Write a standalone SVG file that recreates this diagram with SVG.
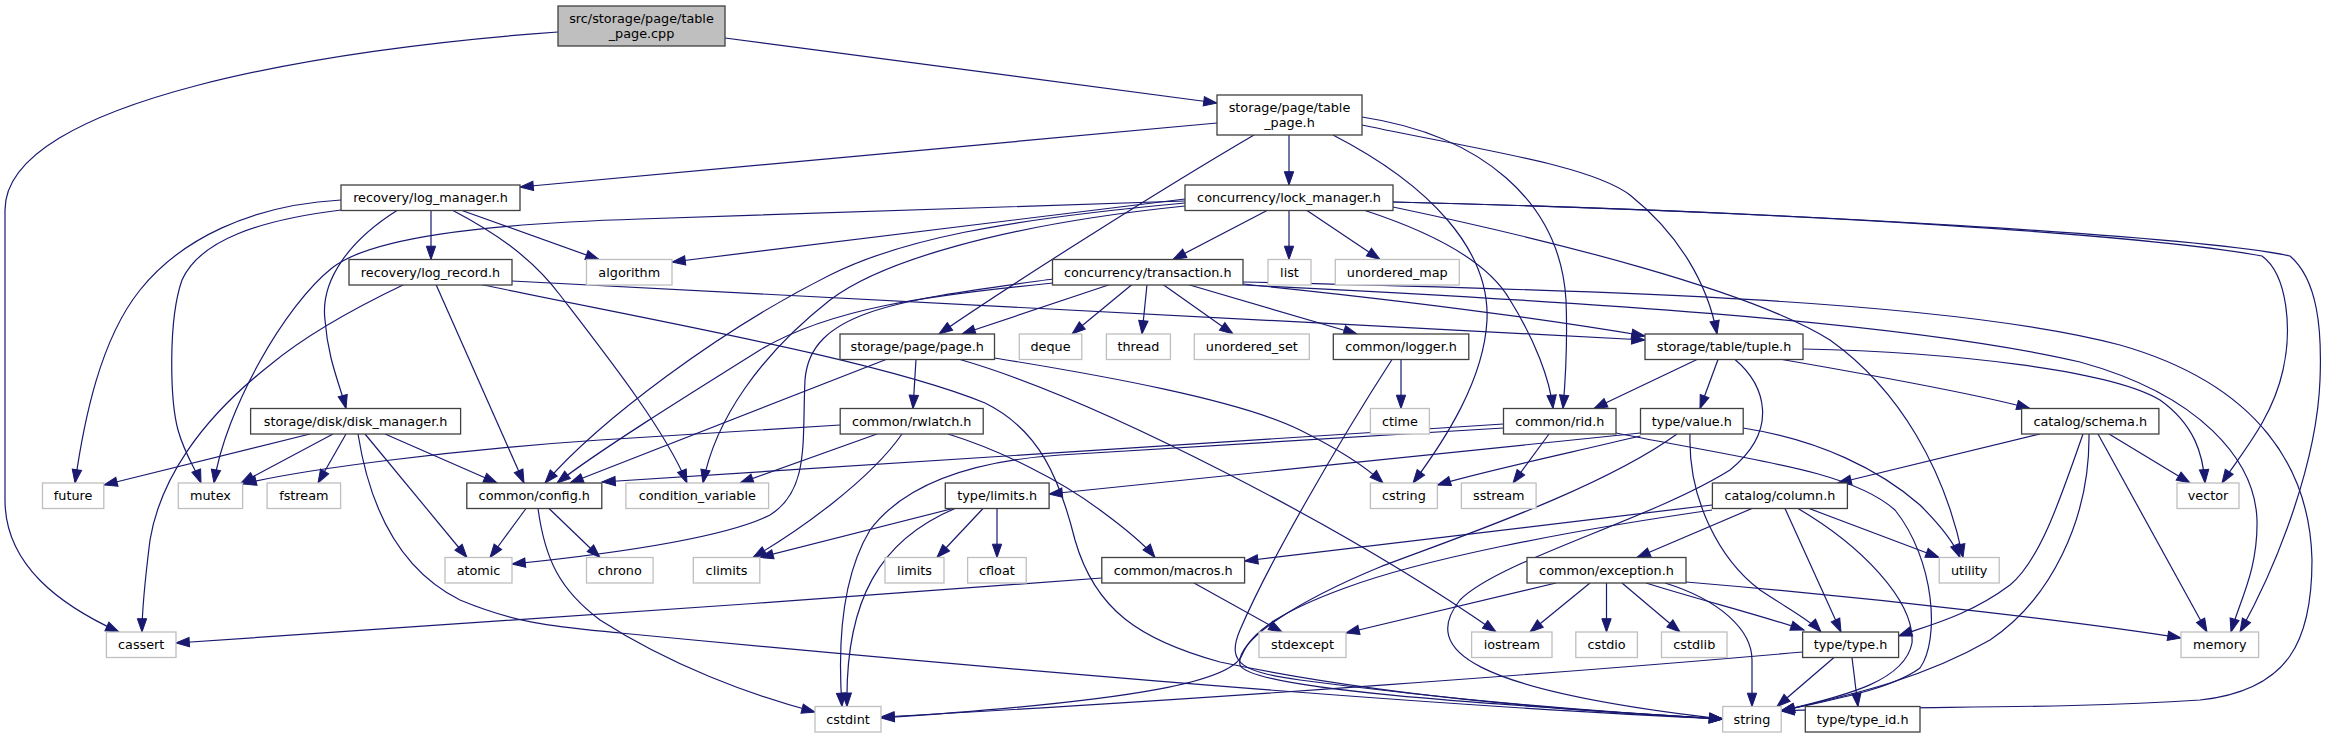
<svg xmlns="http://www.w3.org/2000/svg" width="2328" height="739" viewBox="0 0 2328 739">
<style>
.e path{fill:none;stroke:#191970;stroke-width:1.2;marker-end:url(#a)}
.n rect{fill:#fff;stroke:#404040;stroke-width:1.3}
.x rect{fill:#fff;stroke:#bfbfbf;stroke-width:1.3}
.g rect{fill:#bfbfbf;stroke:#404040;stroke-width:1.3}
text{font-family:"DejaVu Sans","Liberation Sans",sans-serif;font-size:12.8px;text-anchor:middle;fill:#000}
</style>
<defs>
<marker id="a" markerWidth="15" markerHeight="11" refX="13.3" refY="4.67" orient="auto" markerUnits="userSpaceOnUse" overflow="visible"><path d="M0,0 L13.3,4.67 L0,9.33 z" fill="#191970" stroke="#191970" stroke-width="1"/></marker>
</defs>
<rect width="2328" height="739" fill="#fff"/>
<g id="connectors" class="e">
<path d="M725,38 L1217,103"/>
<path d="M558,32 C330,48 5,100 5,210 L5,500 C5,565 60,605 119,632"/>
<path d="M1217,123 L520,187"/>
<path d="M1289,135 L1289,185"/>
<path d="M1254,135 C1160,190 1010,285 939,334"/>
<path d="M1333,135 C1430,185 1490,250 1487,320 C1484,380 1445,440 1413,483"/>
<path d="M1362,117 C1480,135 1560,200 1566,300 C1568,350 1565,385 1563,408.5"/>
<path d="M1362,125 C1480,150 1590,165 1630,195 C1680,235 1708,285 1717,334"/>
<path d="M341,200 C250,205 180,240 140,290 C100,340 84,420 75,483"/>
<path d="M341,210 C260,220 200,240 182,280 C168,320 170,400 178,430 C185,455 196,470 201,483"/>
<path d="M397,210.5 C350,240 320,280 325,320 C328,360 340,385 346,408.5"/>
<path d="M431,210.5 L431,259.5"/>
<path d="M462,210.5 L599,259.5"/>
<path d="M453,210.5 C490,230 530,255 560,295 C610,360 665,430 687,483"/>
<path d="M404,284.5 C340,315 300,340 270,365 C200,420 160,480 150,540 C145,580 142,610 142,632"/>
<path d="M436,284.5 L524,483"/>
<path d="M481,284.5 C650,320 880,360 985,403 C1040,430 1060,480 1075,540 C1095,610 1140,640 1220,662 C1400,700 1600,712 1722.7,719"/>
<path d="M512,281 L1645,340"/>
<path d="M1185,199 L672,262"/>
<path d="M1185,201 L640,219 C480,224 370,238 332,268 C285,305 225,410 214,483"/>
<path d="M1185,203 C1000,220 900,240 830,275 C720,330 600,420 545,483"/>
<path d="M1185,206 C1000,225 880,262 830,300 C760,355 715,420 703,483"/>
<path d="M1267,210.5 L1173,259.5"/>
<path d="M1289,210.5 L1289,259.5"/>
<path d="M1307,210.5 L1380,259.5"/>
<path d="M1365,210.5 C1440,235 1490,265 1510,300 C1535,340 1550,380 1553,408.5"/>
<path d="M1393,207 C1550,240 1750,290 1830,340 C1900,390 1945,470 1963,557.5"/>
<path d="M1393,202 C1800,212 2150,235 2262,256 C2288,275 2292,330 2283,370 C2272,420 2240,455 2222,483"/>
<path d="M1393,202 C1800,212 2200,237 2290,256 C2318,280 2322,330 2320,380 C2317,460 2280,560 2240,632"/>
<path d="M1110,284.5 L962,334"/>
<path d="M1132,284.5 L1072,334"/>
<path d="M1147,284.5 L1142,334"/>
<path d="M1163,284.5 L1233,334"/>
<path d="M1188,284.5 L1357,334"/>
<path d="M1243,284 C1400,300 1550,320 1645,336"/>
<path d="M1053,279 C900,300 810,310 805,380 C802,440 810,490 770,515 C720,540 600,555 512,564"/>
<path d="M1053,283 C930,295 830,308 760,350 C680,400 600,450 557,483"/>
<path d="M1243,285 C1550,300 1900,320 2080,362 C2200,395 2255,460 2257,520 C2258,570 2240,600 2231,632"/>
<path d="M1243,282 C1600,290 1950,300 2120,345 C2260,385 2310,470 2312,560 C2312,640 2290,690 2200,700 C2050,710 1900,705 1781,711"/>
<path d="M886,359.5 L570,483"/>
<path d="M916,359.5 L913,408.5"/>
<path d="M960,359.5 C1100,400 1350,530 1496,632"/>
<path d="M994.5,358 C1100,375 1240,400 1300,430 C1340,450 1365,466 1383,483"/>
<path d="M1401,359.5 L1401,408.5"/>
<path d="M1392,359.5 C1340,440 1270,560 1240,630 C1225,665 1245,672 1300,680 C1450,700 1600,712 1722.7,719"/>
<path d="M1697,359.5 L1594,408.5"/>
<path d="M1718,359.5 L1700,408.5"/>
<path d="M1782,359.5 C1900,380 1980,395 2030,408.5"/>
<path d="M1803,349 C1950,352 2110,370 2160,400 C2195,425 2203,455 2205,483"/>
<path d="M1735,359.5 C1765,385 1780,430 1730,470 C1650,520 1500,560 1460,600 C1420,650 1470,690 1722.7,719"/>
<path d="M310,434 L104,485"/>
<path d="M333,434 L241,483"/>
<path d="M346,434 L318,483"/>
<path d="M385,434 L497,483"/>
<path d="M365,434 L467,557.5"/>
<path d="M358,434 C370,510 400,570 460,600 C520,625 560,627 620,633 C900,660 1400,705 1722.7,719"/>
<path d="M840,425 L600,440 C450,450 300,470 243,484"/>
<path d="M877,434 L740,483"/>
<path d="M902,434 C870,480 800,530 753,557.5"/>
<path d="M948,434 C1000,450 1060,480 1100,510 C1130,532 1145,545 1155,557.5"/>
<path d="M1503.5,424 L602,482"/>
<path d="M1503.5,428 L1060,455 C960,462 900,490 870,530 C840,580 838,650 842,706.5"/>
<path d="M1549,434 L1513,483"/>
<path d="M1616,433 C1750,460 1850,470 1895,510 C1935,560 1940,640 1920,668 C1890,690 1830,700 1781,711"/>
<path d="M1640.5,433 L1049,494"/>
<path d="M1640.5,436 C1560,455 1480,472 1437.4,485"/>
<path d="M1743,428 C1820,440 1880,470 1920,505 C1945,530 1955,545 1960,557.5"/>
<path d="M1690,434 C1688,500 1720,560 1760,590 C1790,610 1810,620 1821,632"/>
<path d="M1677,434 C1600,490 1450,540 1380,567 C1300,600 1235,640 1240,665 C1250,690 1500,705 1722.7,719"/>
<path d="M2040,434 L1838,483"/>
<path d="M2109,434 L2190,483"/>
<path d="M2098,434 L2207,632"/>
<path d="M2083,434 C2060,500 2040,560 2010,585 C1970,615 1930,625 1898.6,636"/>
<path d="M2089,434 C2090,520 2050,600 1990,640 C1920,680 1850,695 1781,711"/>
<path d="M953,508.5 L760,557.5"/>
<path d="M983,508.5 L937,557.5"/>
<path d="M997,508.5 L997,557.5"/>
<path d="M955,508.5 C880,540 845,600 847,706.5"/>
<path d="M526,508.5 L490,557.5"/>
<path d="M549,508.5 L600,557.5"/>
<path d="M538,508.5 C545,560 560,590 600,620 C670,665 750,695 815,712"/>
<path d="M1752,508.5 L1637,557.5"/>
<path d="M1785,508.5 L1841,632"/>
<path d="M1809,508.5 L1939,557.5"/>
<path d="M1798,508.5 C1860,545 1915,600 1912,643 C1905,680 1850,695 1781,711"/>
<path d="M1712,505 L1244.6,561"/>
<path d="M1712,510 C1560,532 1420,560 1345,588 C1285,610 1252,630 1242,655 C1232,680 1150,700 881,718"/>
<path d="M1194,583 L1282,632"/>
<path d="M1102,578 C800,600 400,630 176,643"/>
<path d="M1556,583 L1346,633"/>
<path d="M1590,583 L1530,632"/>
<path d="M1606.5,583 L1606.5,632"/>
<path d="M1622,583 L1680,632"/>
<path d="M1646,583 C1700,600 1760,615 1804,630"/>
<path d="M1686,582 C1900,600 2100,625 2181,638"/>
<path d="M1665,583 C1720,600 1752,630 1752,660 L1752,706.5"/>
<path d="M1834,657.5 L1777,706.5"/>
<path d="M1852,657.5 L1858,706.5"/>
<path d="M1802.6,652 C1600,670 1200,700 881,717"/>
</g>
<g id="n_src" class="g"><rect x="558" y="6" width="167" height="40"/><text x="641.5" y="23">src/storage/page/table</text><text x="641.5" y="38">_page.cpp</text></g>
<g id="n_table_page_h" class="n"><rect x="1217" y="95" width="145" height="40"/><text x="1289.5" y="112">storage/page/table</text><text x="1289.5" y="127">_page.h</text></g>
<g id="n_log_manager" class="n"><rect x="341" y="185" width="179" height="25.5"/><text x="430.5" y="202.4">recovery/log_manager.h</text></g>
<g id="n_lock_manager" class="n"><rect x="1185" y="185" width="208" height="25.5"/><text x="1289" y="202.4">concurrency/lock_manager.h</text></g>
<g id="n_log_record" class="n"><rect x="349" y="259.5" width="163" height="25.5"/><text x="430.5" y="276.9">recovery/log_record.h</text></g>
<g id="n_algorithm" class="x"><rect x="586.5" y="259.5" width="85.5" height="25.5"/><text x="629.25" y="276.9">algorithm</text></g>
<g id="n_transaction" class="n"><rect x="1052.5" y="259.5" width="190.5" height="25.5"/><text x="1147.75" y="276.9">concurrency/transaction.h</text></g>
<g id="n_list" class="x"><rect x="1268" y="259.5" width="43" height="25.5"/><text x="1289.5" y="276.9">list</text></g>
<g id="n_unordered_map" class="x"><rect x="1335.3" y="259.5" width="124" height="25.5"/><text x="1397.3" y="276.9">unordered_map</text></g>
<g id="n_page" class="n"><rect x="840" y="334" width="154.5" height="25.5"/><text x="917.25" y="351.4">storage/page/page.h</text></g>
<g id="n_deque" class="x"><rect x="1019.3" y="334" width="62.5" height="25.5"/><text x="1050.55" y="351.4">deque</text></g>
<g id="n_thread" class="x"><rect x="1106.4" y="334" width="64" height="25.5"/><text x="1138.4" y="351.4">thread</text></g>
<g id="n_unordered_set" class="x"><rect x="1194.3" y="334" width="115" height="25.5"/><text x="1251.8" y="351.4">unordered_set</text></g>
<g id="n_logger" class="n"><rect x="1333.3" y="334" width="135.5" height="25.5"/><text x="1401.05" y="351.4">common/logger.h</text></g>
<g id="n_tuple" class="n"><rect x="1645" y="334" width="158" height="25.5"/><text x="1724" y="351.4">storage/table/tuple.h</text></g>
<g id="n_disk_manager" class="n"><rect x="250.6" y="408.5" width="210" height="25.5"/><text x="355.6" y="425.9">storage/disk/disk_manager.h</text></g>
<g id="n_rwlatch" class="n"><rect x="840.2" y="408.5" width="143" height="25.5"/><text x="911.7" y="425.9">common/rwlatch.h</text></g>
<g id="n_ctime" class="x"><rect x="1370.4" y="408.5" width="59" height="25.5"/><text x="1399.9" y="425.9">ctime</text></g>
<g id="n_rid" class="n"><rect x="1503.5" y="408.5" width="112.5" height="25.5"/><text x="1559.75" y="425.9">common/rid.h</text></g>
<g id="n_value" class="n"><rect x="1640.5" y="408.5" width="102.7" height="25.5"/><text x="1691.85" y="425.9">type/value.h</text></g>
<g id="n_schema" class="n"><rect x="2021.6" y="408.5" width="137.3" height="25.5"/><text x="2090.25" y="425.9">catalog/schema.h</text></g>
<g id="n_future" class="x"><rect x="42.5" y="483" width="61.3" height="25.5"/><text x="73.15" y="500.4">future</text></g>
<g id="n_mutex" class="x"><rect x="178.3" y="483" width="64.3" height="25.5"/><text x="210.45" y="500.4">mutex</text></g>
<g id="n_fstream" class="x"><rect x="267.1" y="483" width="73.5" height="25.5"/><text x="303.85" y="500.4">fstream</text></g>
<g id="n_config" class="n"><rect x="466.8" y="483" width="135" height="25.5"/><text x="534.3" y="500.4">common/config.h</text></g>
<g id="n_condition_variable" class="x"><rect x="625.9" y="483" width="142.7" height="25.5"/><text x="697.25" y="500.4">condition_variable</text></g>
<g id="n_limits_h" class="n"><rect x="945.3" y="483" width="103.8" height="25.5"/><text x="997.2" y="500.4">type/limits.h</text></g>
<g id="n_cstring" class="x"><rect x="1370.4" y="483" width="67" height="25.5"/><text x="1403.9" y="500.4">cstring</text></g>
<g id="n_sstream" class="x"><rect x="1461.4" y="483" width="74.7" height="25.5"/><text x="1498.75" y="500.4">sstream</text></g>
<g id="n_column" class="n"><rect x="1712.4" y="483" width="135" height="25.5"/><text x="1779.9" y="500.4">catalog/column.h</text></g>
<g id="n_vector" class="x"><rect x="2177" y="483" width="62" height="25.5"/><text x="2208" y="500.4">vector</text></g>
<g id="n_atomic" class="x"><rect x="445" y="557.5" width="67" height="25.5"/><text x="478.5" y="574.9">atomic</text></g>
<g id="n_chrono" class="x"><rect x="586.5" y="557.5" width="66.6" height="25.5"/><text x="619.8" y="574.9">chrono</text></g>
<g id="n_climits" class="x"><rect x="693.3" y="557.5" width="66.5" height="25.5"/><text x="726.55" y="574.9">climits</text></g>
<g id="n_limits" class="x"><rect x="885" y="557.5" width="59" height="25.5"/><text x="914.5" y="574.9">limits</text></g>
<g id="n_cfloat" class="x"><rect x="967.6" y="557.5" width="58.6" height="25.5"/><text x="996.9" y="574.9">cfloat</text></g>
<g id="n_macros" class="n"><rect x="1101.8" y="557.5" width="142.8" height="25.5"/><text x="1173.2" y="574.9">common/macros.h</text></g>
<g id="n_exception" class="n"><rect x="1527" y="557.5" width="159" height="25.5"/><text x="1606.5" y="574.9">common/exception.h</text></g>
<g id="n_utility" class="x"><rect x="1939.2" y="557.5" width="60" height="25.5"/><text x="1969.2" y="574.9">utility</text></g>
<g id="n_cassert" class="x"><rect x="106.4" y="632" width="69.6" height="25.5"/><text x="141.2" y="649.4">cassert</text></g>
<g id="n_stdexcept" class="x"><rect x="1259" y="632" width="87" height="25.5"/><text x="1302.5" y="649.4">stdexcept</text></g>
<g id="n_iostream" class="x"><rect x="1471.6" y="632" width="80.4" height="25.5"/><text x="1511.8" y="649.4">iostream</text></g>
<g id="n_cstdio" class="x"><rect x="1575.8" y="632" width="61.6" height="25.5"/><text x="1606.6" y="649.4">cstdio</text></g>
<g id="n_cstdlib" class="x"><rect x="1661.5" y="632" width="65.5" height="25.5"/><text x="1694.25" y="649.4">cstdlib</text></g>
<g id="n_type" class="n"><rect x="1802.6" y="632" width="96" height="25.5"/><text x="1850.6" y="649.4">type/type.h</text></g>
<g id="n_memory" class="x"><rect x="2181" y="632" width="77.6" height="25.5"/><text x="2219.8" y="649.4">memory</text></g>
<g id="n_cstdint" class="x"><rect x="815" y="706.5" width="66" height="25.5"/><text x="848" y="723.9">cstdint</text></g>
<g id="n_string" class="x"><rect x="1722.7" y="706.5" width="58.5" height="25.5"/><text x="1751.95" y="723.9">string</text></g>
<g id="n_type_id" class="n"><rect x="1805.3" y="706.5" width="114.7" height="25.5"/><text x="1862.65" y="723.9">type/type_id.h</text></g>
</svg>
